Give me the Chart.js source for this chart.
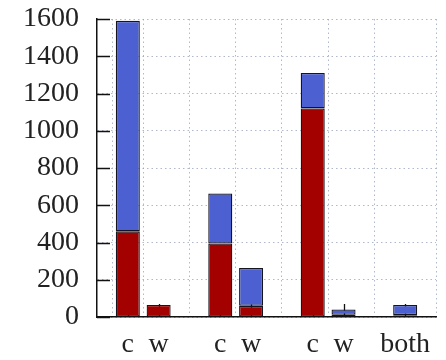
<!DOCTYPE html>
<html>
<head>
<meta charset="utf-8">
<script src="https://cdn.jsdelivr.net/npm/chart.js@4/dist/chart.umd.min.js"></script>
<style>
html,body{margin:0;padding:0;background:#fff;}
#wrap{width:446px;height:360px;position:relative;}
</style>
</head>
<body>
<div id="wrap"><canvas id="c" width="446" height="360"></canvas></div>
<script>
const positions = [0, 1, 3, 4, 6, 7, 9];
const categories = ['c', 'w', 'c', 'w', 'c', 'w', 'both'];
const redValues = [460, 65, 395, 60, 1120, 12, 10];
const blueValues = [1130, 0, 268, 203, 190, 28, 55];
const yTicks = [0, 200, 400, 600, 800, 1000, 1200, 1400, 1600];

const inwardTicks = {
  id: 'inwardTicks',
  beforeDatasetsDraw(chart) {
    const {ctx, chartArea, scales} = chart;
    ctx.save();
    ctx.strokeStyle = '#111';
    ctx.lineWidth = 1.3;
    ctx.beginPath();
    yTicks.forEach(v => {
      const py = Math.round(scales.y.getPixelForValue(v)) + 0.5;
      ctx.moveTo(chartArea.left, py);
      ctx.lineTo(chartArea.left + 13, py);
    });
    positions.forEach(v => {
      const px = Math.round(scales.x.getPixelForValue(v)) + 0.5;
      ctx.moveTo(px, chartArea.bottom);
      ctx.lineTo(px, chartArea.bottom - 13);
    });
    ctx.stroke();
    ctx.restore();
  }
};

const gridColor = 'rgba(150,160,185,0.75)';

new Chart(document.getElementById('c'), {
  type: 'bar',
  data: {
    datasets: [
      {
        label: 'red',
        data: positions.map((p, i) => ({x: p, y: redValues[i]})),
        backgroundColor: '#a30000',
        borderColor: '#15151f',
        borderWidth: 1.3,
        borderSkipped: false
      },
      {
        label: 'blue',
        data: positions.map((p, i) => ({x: p, y: blueValues[i]})),
        backgroundColor: '#4c60d2',
        borderColor: '#15151f',
        borderWidth: 1.3,
        borderSkipped: false
      }
    ]
  },
  options: {
    responsive: false,
    animation: false,
    devicePixelRatio: 1,
    layout: {padding: {top: 19, right: 10, left: 0, bottom: 0}},
    datasets: {bar: {barPercentage: 0.78, categoryPercentage: 1}},
    plugins: {legend: {display: false}, tooltip: {enabled: false}},
    scales: {
      x: {
        type: 'linear',
        stacked: true,
        offset: false,
        min: -1,
        max: 10,
        afterBuildTicks: s => { s.ticks = positions.map(v => ({value: v})); },
        afterFit: s => { s.height = 43; s.paddingLeft = 0; s.paddingRight = 0; },
        ticks: {
          autoSkip: false,
          maxRotation: 0,
          padding: 11,
          color: '#222',
          font: {family: '"Liberation Serif", serif', size: 28},
          callback: v => categories[positions.indexOf(v)]
        },
        grid: {
          drawTicks: false,
          color: gridColor,
          lineWidth: 1
        },
        border: {display: true, color: '#111', width: 1.5, dash: [1.5, 3]}
      },
      y: {
        stacked: true,
        min: 0,
        max: 1600,
        afterBuildTicks: s => { s.ticks = yTicks.map(v => ({value: v})); },
        afterFit: s => { s.width = 97; s.paddingTop = 0; s.paddingBottom = 0; },
        ticks: {
          autoSkip: false,
          padding: 18,
          color: '#222',
          font: {family: '"Liberation Serif", serif', size: 28},
          callback: v => String(v)
        },
        grid: {
          drawTicks: false,
          color: gridColor,
          lineWidth: 1
        },
        border: {display: true, color: '#111', width: 1.5, dash: [1.5, 3]}
      }
    }
  },
  plugins: [inwardTicks]
});
</script>
</body>
</html>
